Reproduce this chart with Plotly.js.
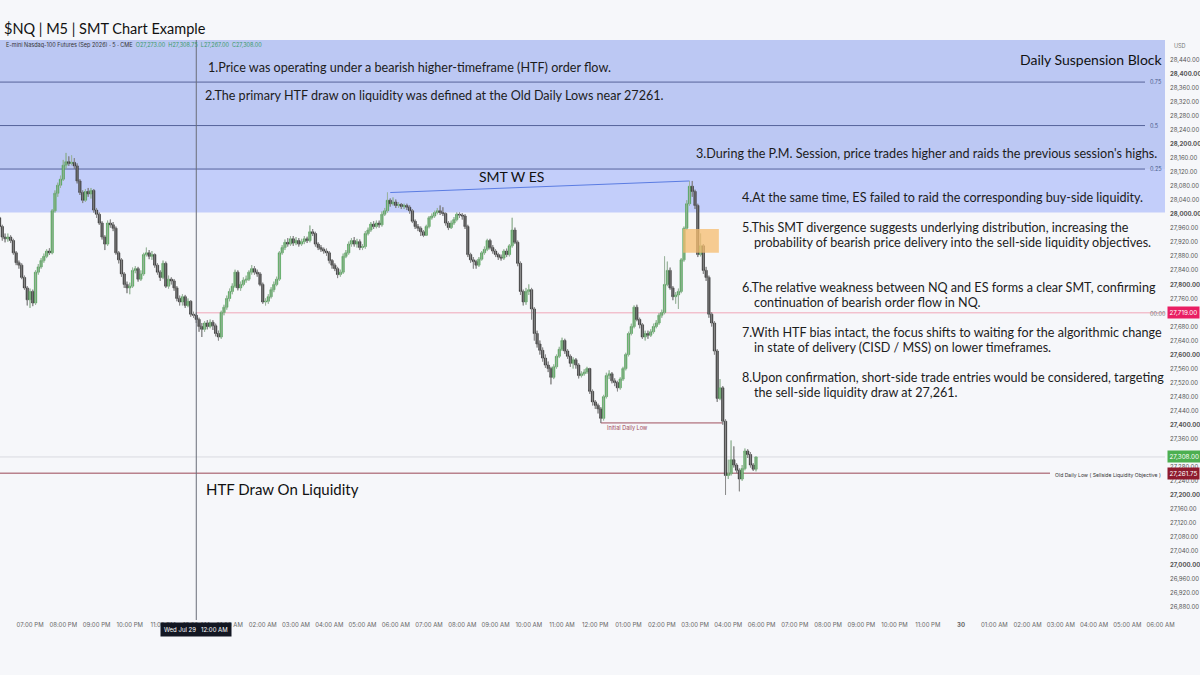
<!DOCTYPE html>
<html>
<head>
<meta charset="utf-8">
<script src="https://cdn.plot.ly/plotly-3.0.1.min.js"></script>
<style>
  html, body { margin: 0; padding: 0; background: #f6f7fa; }
  #chart { width: 1200px; height: 675px; }
</style>
</head>
<body>
<div id="chart"></div>
<script>
// ---------- DATA (NQ 5-minute bars, 6:00 PM Jul 28 -> 4:50 PM Jul 29) ----------
const open = [
28015,27990,27965,27935,27930,27935,27925,27890,27862,27855,
27820,27790,27756,27780,27747,27835,27850,27868,27880,27895,
27890,28010,28060,28083,28100,28140,28150,28145,28148,28138,
28095,28062,28040,28065,28058,28068,28012,28000,27975,27935,
27915,27975,27970,27960,27890,27870,27830,27800,27790,27795,
27840,27845,27815,27830,27885,27890,27880,27885,27855,27835,
27820,27860,27795,27815,27810,27790,27760,27750,27765,27740,
27752,27715,27712,27700,27680,27672,27690,27680,27692,27682,
27660,27650,27720,27735,27760,27780,27795,27835,27790,27800,
27812,27815,27835,27845,27835,27830,27800,27750,27752,27765,
27785,27800,27815,27890,27905,27920,27915,27930,27918,27925,
27915,27922,27930,27925,27950,27945,27915,27905,27900,27895,
27890,27868,27855,27845,27828,27835,27880,27890,27915,27925,
27915,27922,27905,27908,27945,27955,27972,27965,27975,27970,
28000,28010,28040,28030,28035,28025,28028,28022,28025,28020,
28010,27980,27965,27960,27950,27940,27965,27990,27995,28005,
28010,28005,28002,27975,27962,27975,27985,28000,27998,27995,
27965,27885,27870,27865,27855,27872,27890,27900,27925,27905,
27895,27885,27878,27875,27895,27885,27910,27955,27920,27860,
27780,27750,27780,27785,27730,27660,27630,27612,27590,27570,
27560,27535,27565,27595,27615,27640,27610,27595,27575,27585,
27570,27540,27545,27550,27560,27495,27465,27455,27445,27418,
27480,27540,27545,27525,27520,27505,27530,27560,27600,27660,
27680,27735,27700,27685,27650,27660,27655,27665,27680,27690,
27712,27720,27800,27840,27790,27765,27770,27780,27870,27960,
28030,28080,28065,28025,27885,27910,27840,27820,27715,27690,
27610,27475,27505,27410,27255,27260,27300,27285,27270,27245,
27275,27325,27315,27285,27273
];
const high = [
28020,27995,27970,27945,27945,27940,27930,27895,27868,27860,
27825,27795,27788,27785,27840,27858,27875,27888,27900,27903,
28015,28068,28090,28110,28155,28175,28165,28168,28160,28145,
28100,28068,28072,28075,28075,28072,28018,28005,27980,27940,
27982,27985,27978,27965,27895,27875,27835,27808,27805,27848,
27852,27850,27840,27890,27905,27898,27895,27888,27860,27840,
27868,27865,27825,27820,27815,27795,27768,27772,27770,27760,
27755,27722,27720,27705,27690,27695,27698,27700,27698,27688,
27668,27725,27742,27768,27788,27803,27842,27840,27808,27820,
27825,27840,27855,27852,27842,27835,27805,27760,27772,27792,
27808,27822,27895,27912,27928,27932,27938,27938,27935,27932,
27930,27938,27936,27968,27958,27950,27920,27912,27905,27902,
27895,27872,27860,27850,27842,27888,27898,27922,27932,27935,
27930,27928,27915,27952,27962,27978,27980,27982,27982,28008,
28018,28062,28045,28048,28042,28035,28032,28030,28030,28025,
28015,27985,27972,27965,27955,27970,27995,28002,28010,28018,
28025,28020,28005,27980,27982,27992,28005,28005,28003,28000,
27970,27890,27878,27870,27878,27895,27908,27930,27930,27912,
27900,27890,27885,27900,27902,27915,27990,27962,27925,27865,
27785,27790,27800,27790,27735,27668,27640,27620,27600,27580,
27565,27572,27600,27622,27648,27645,27615,27600,27592,27590,
27575,27552,27558,27565,27562,27500,27470,27460,27450,27485,
27548,27555,27550,27532,27525,27535,27565,27605,27665,27688,
27740,27742,27705,27690,27668,27668,27672,27688,27698,27718,
27728,27880,27865,27848,27795,27778,27788,27875,27965,28040,
28095,28095,28070,28030,27945,27915,27850,27825,27720,27695,
27615,27530,27510,27415,27300,27355,27338,27290,27275,27285,
27332,27330,27322,27290,27308.75
];
const low = [
27980,27958,27925,27920,27922,27918,27885,27855,27845,27815,
27785,27740,27733,27738,27742,27828,27845,27862,27875,27884,
27886,28005,28050,28075,28095,28130,28138,28140,28130,28088,
28055,28032,28035,28050,28045,28005,27990,27970,27928,27898,
27910,27962,27952,27885,27860,27822,27790,27775,27772,27790,
27832,27808,27810,27825,27880,27872,27870,27848,27828,27810,
27815,27790,27788,27800,27782,27752,27740,27740,27733,27735,
27708,27705,27690,27665,27650,27665,27672,27675,27670,27652,
27640,27645,27712,27728,27752,27772,27790,27783,27782,27795,
27805,27810,27828,27828,27822,27795,27745,27740,27745,27760,
27778,27795,27810,27885,27898,27908,27910,27910,27912,27908,
27910,27915,27918,27920,27938,27908,27898,27893,27888,27882,
27860,27845,27838,27818,27822,27830,27875,27885,27908,27908,
27905,27898,27898,27902,27940,27950,27958,27960,27962,27965,
27995,28005,28022,28025,28018,28018,28015,28015,28012,28002,
27975,27958,27952,27938,27935,27938,27960,27985,27990,28000,
27998,27995,27968,27955,27958,27970,27980,27990,27985,27958,
27878,27862,27845,27845,27850,27868,27885,27895,27900,27888,
27878,27870,27868,27870,27878,27880,27905,27915,27852,27770,
27740,27742,27770,27700,27640,27620,27600,27580,27562,27550,
27515,27530,27560,27590,27610,27602,27588,27565,27560,27560,
27532,27535,27540,27545,27488,27455,27445,27432,27405,27412,
27475,27530,27518,27510,27495,27500,27525,27555,27595,27655,
27675,27695,27675,27645,27640,27645,27650,27660,27675,27685,
27705,27715,27795,27785,27755,27745,27730,27775,27865,27955,
28025,28050,28015,27878,27880,27830,27810,27705,27680,27600,
27465,27470,27400,27200,27245,27255,27278,27262,27210,27240,
27270,27305,27278,27268,27267
];
const close = [
27990,27965,27935,27930,27935,27925,27890,27862,27855,27820,
27790,27756,27780,27747,27835,27850,27868,27880,27895,27890,
28010,28060,28083,28100,28140,28150,28145,28148,28138,28095,
28062,28040,28065,28058,28068,28012,28000,27975,27935,27915,
27975,27970,27960,27890,27870,27830,27800,27790,27795,27840,
27845,27815,27830,27885,27890,27880,27885,27855,27835,27820,
27860,27795,27815,27810,27790,27760,27750,27765,27740,27752,
27715,27712,27700,27680,27672,27690,27680,27692,27682,27660,
27650,27720,27735,27760,27780,27795,27835,27790,27800,27812,
27815,27835,27845,27835,27830,27800,27750,27752,27765,27785,
27800,27815,27890,27905,27920,27915,27930,27918,27925,27915,
27922,27930,27925,27950,27945,27915,27905,27900,27895,27890,
27868,27855,27845,27828,27835,27880,27890,27915,27925,27915,
27922,27905,27908,27945,27955,27972,27965,27975,27970,28000,
28010,28040,28030,28035,28025,28028,28022,28025,28020,28010,
27980,27965,27960,27950,27940,27965,27990,27995,28005,28010,
28005,28002,27975,27962,27975,27985,28000,27998,27995,27965,
27885,27870,27865,27855,27872,27890,27900,27925,27905,27895,
27885,27878,27875,27895,27885,27910,27955,27920,27860,27780,
27750,27780,27785,27730,27660,27630,27612,27590,27570,27560,
27535,27565,27595,27615,27640,27610,27595,27575,27585,27570,
27540,27545,27550,27560,27495,27465,27455,27445,27418,27480,
27540,27545,27525,27520,27505,27530,27560,27600,27660,27680,
27735,27700,27685,27650,27660,27655,27665,27680,27690,27712,
27720,27800,27840,27790,27765,27770,27780,27870,27960,28030,
28080,28065,28025,27885,27910,27840,27820,27715,27690,27610,
27475,27505,27410,27255,27260,27300,27285,27270,27245,27275,
27325,27315,27285,27273,27308
];

// Time axis: 5-minute slots (slot 0 = 6:00 PM Jul 28; the 5-6 PM break is skipped)
const xTickSlots  = [12,24,36,48,60,72,84,96,108,120,132,144,156,168,180,192,204,216,228,240,252,264,
                     276,288,300,312,324,336,348,360,372,384,396,408,420];
const xTickLabels = ["07:00 PM","08:00 PM","09:00 PM","10:00 PM","11:00 PM","12:00 AM","01:00 AM","02:00 AM",
                     "03:00 AM","04:00 AM","05:00 AM","06:00 AM","07:00 AM","08:00 AM","09:00 AM","10:00 AM",
                     "11:00 AM","12:00 PM","01:00 PM","02:00 PM","03:00 PM","04:00 PM",
                     "06:00 PM","07:00 PM","08:00 PM","09:00 PM","10:00 PM","11:00 PM","<b>30</b>",
                     "01:00 AM","02:00 AM","03:00 AM","04:00 AM","05:00 AM","06:00 AM"];

// Price axis ticks (levels hidden behind the price tags are left out)
const yTickValues = [26880,26920,26960,27000,27040,27080,27120,27160,27200,27240,27280,27360,27400,
                     27440,27480,27520,27560,27600,27640,27680,27760,27800,27840,27880,27920,27960,
                     28000,28040,28080,28120,28160,28200,28240,28280,28320,28360,28400,28440];
const yTickLabels = ["26,880.00","26,920.00","26,960.00","<b>27,000.00</b>","27,040.00","27,080.00","27,120.00",
                     "27,160.00","<b>27,200.00</b>","27,240.00","27,280.00","27,360.00","<b>27,400.00</b>",
                     "27,440.00","27,480.00","27,520.00","27,560.00","<b>27,600.00</b>","27,640.00","27,680.00",
                     "27,760.00","<b>27,800.00</b>","27,840.00","27,880.00","27,920.00","27,960.00",
                     "<b>28,000.00</b>","28,040.00","28,080.00","28,120.00","28,160.00","<b>28,200.00</b>",
                     "28,240.00","28,280.00","28,320.00","28,360.00","<b>28,400.00</b>","28,440.00"];

// Key levels
const blockLow = 28005, blockHigh = 28505;
const fibLevels = [28129, 28253, 28377];
const fibLabels = ["0.25", "0.5", "0.75"];
const midnightOpen = 27719, lastPrice = 27308, oldDailyLow = 27261.75, initialDailyLow = 27405;
const smtStart = {slot: 142, price: 28062}, smtEnd = {slot: 250, price: 28095};
const fvg = {slot0: 247.7, slot1: 260.6, low: 27890, high: 27958};
const crossSlot = 72;

const slots = close.map((_, i) => i);

// ---------- LAYOUT HELPERS (pixel -> paper) ----------
const PL = 0, PR = 1165, PT = 40, PB = 620;
const px = x => (x - PL) / (PR - PL);
const py = y => (PB - y) / (PB - PT);
const NOTE_FONT = "Lato, 'Noto Sans', sans-serif";
const SMALL_FONT = "Inter, sans-serif";
function note(text, x, y, size, extra) {
  return Object.assign({
    text: text, xref: "paper", yref: "paper", x: px(x), y: py(y),
    xanchor: "left", yanchor: "middle", showarrow: false,
    font: {family: NOTE_FONT, size: size || 12.6, color: "#1c1c1c"}
  }, extra || {});
}

const annotations = [
  note("$NQ | M5 | SMT Chart Example", 2, 29, 14.5, {font: {family: NOTE_FONT, size: 14.5, color: "#111"}}),
  note("E-mini Nasdaq-100 Futures (Sep 2026) · 5 · CME  <span style='color:#3a9a6a'>O27,273.00  H27,308.75  L27,267.00  C27,308.00</span>",
       4, 45, 5.5, {font: {family: SMALL_FONT, size: 5.5, color: "#333"}}),
  note("1.Price was operating under a bearish higher-timeframe (HTF) order flow.", 206, 67),
  note("2.The primary HTF draw on liquidity was defined at the Old Daily Lows near 27261.", 203, 96),
  note("3.During the P.M. Session, price trades higher and raids the previous session's highs.", 694, 153),
  note("4.At the same time, ES failed to raid the corresponding buy-side liquidity.", 740, 197),
  note("5.This SMT divergence suggests underlying distribution, increasing the", 740, 227),
  note("probability of bearish price delivery into the sell-side liquidity objectives.", 752, 242),
  note("6.The relative weakness between NQ and ES forms a clear SMT, confirming", 740, 287),
  note("continuation of bearish order flow in NQ.", 752, 302),
  note("7.With HTF bias intact, the focus shifts to waiting for the algorithmic change", 740, 332),
  note("in state of delivery (CISD / MSS) on lower timeframes.", 752, 347),
  note("8.Upon confirmation, short-side trade entries would be considered, targeting", 740, 377),
  note("the sell-side liquidity draw at 27,261.", 752, 392),
  note("Daily Suspension Block", 1018, 60, 14, {font: {family: NOTE_FONT, size: 14, color: "#111"}}),
  note("SMT W ES", 477, 177, 14, {font: {family: NOTE_FONT, size: 14, color: "#111"}}),
  note("HTF Draw On Liquidity", 204, 489, 15, {font: {family: NOTE_FONT, size: 15, color: "#111"}}),
  note("Initial Daily Low", 605, 427, 5.5, {font: {family: SMALL_FONT, size: 5.5, color: "#a04a58"}}),
  note("Old Daily Low ( Sellside Liquidity Objective )", 1053, 475, 5.1, {font: {family: SMALL_FONT, size: 5.1, color: "#333"}}),
  note("00:00", 1148, 314, 5.5, {font: {family: SMALL_FONT, size: 5.5, color: "#777"}}),
  note("USD", 1172, 46, 5.5, {font: {family: SMALL_FONT, size: 5.5, color: "#777"}})
];
fibLevels.forEach((lv, k) => annotations.push({
  text: fibLabels[k], xref: "paper", yref: "y", x: px(1148), y: lv, xanchor: "left", yanchor: "middle",
  showarrow: false, font: {family: SMALL_FONT, size: 5.5, color: "#4a5a8a"}
}));
// price tags on the right axis
[[midnightOpen, "27,719.00", "#e91e63", "#fff"], [lastPrice, "27,308.00", "#4caf50", "#fff"],
 [oldDailyLow, "27,261.75", "#8e1b2e", "#fff"]].forEach(t => annotations.push({
  text: t[1], xref: "paper", yref: "y", x: px(1167), y: t[0], xanchor: "left", yanchor: "middle",
  showarrow: false, bgcolor: t[2], borderpad: 1.5, font: {family: SMALL_FONT, size: 6.3, color: t[3]}
}));
// crosshair time tag
annotations.push({
  text: "Wed Jul 29   12:00 AM", xref: "x", yref: "paper", x: crossSlot, y: py(629),
  xanchor: "center", yanchor: "middle", showarrow: false, bgcolor: "#131722", borderpad: 3,
  font: {family: SMALL_FONT, size: 6, color: "#fff"}
});

const shapes = [
  {type: "rect", xref: "paper", yref: "y", x0: 0, x1: 1, y0: blockLow, y1: fibLevels[0],
   fillcolor: "#c3cefa", line: {width: 0}, layer: "below"},
  {type: "rect", xref: "paper", yref: "y", x0: 0, x1: 1, y0: fibLevels[0], y1: blockHigh,
   fillcolor: "#bcc8f3", line: {width: 0}, layer: "below"},
  {type: "line", xref: "paper", yref: "y", x0: 0, x1: 1, y0: lastPrice, y1: lastPrice,
   line: {color: "#d9dae0", width: 1}, layer: "below"},
  {type: "line", xref: "x", yref: "y", x0: crossSlot, x1: 421.6, y0: midnightOpen, y1: midnightOpen,
   line: {color: "#f0a6b8", width: 1}, layer: "below"},
  {type: "line", xref: "paper", yref: "y", x0: 0, x1: px(1050), y0: oldDailyLow, y1: oldDailyLow,
   line: {color: "#9a4656", width: 1}, layer: "below"},
  {type: "line", xref: "x", yref: "y", x0: 218, x1: 262, y0: initialDailyLow, y1: initialDailyLow,
   line: {color: "#a0505f", width: 1}, layer: "below"},
  {type: "rect", xref: "x", yref: "y", x0: fvg.slot0, x1: fvg.slot1, y0: fvg.low, y1: fvg.high,
   fillcolor: "rgba(245,188,110,0.75)", line: {width: 0}, layer: "above"},
  {type: "line", xref: "x", yref: "y", x0: smtStart.slot, x1: smtEnd.slot, y0: smtStart.price, y1: smtEnd.price,
   line: {color: "#5a7ce2", width: 1}},
  {type: "line", xref: "x", yref: "paper", x0: crossSlot, x1: crossSlot, y0: 0, y1: 1,
   line: {color: "#6a6e78", width: 1}}
];
fibLevels.forEach(lv => shapes.push({type: "line", xref: "paper", yref: "y", x0: 0, x1: px(1145), y0: lv, y1: lv,
  line: {color: "#56639a", width: 1}, layer: "below"}));

const wicks = {
  type: "ohlc", x: slots, open: open, high: high, low: low, close: close, tickwidth: 0,
  increasing: {line: {color: "#9fb3a0", width: 1}}, decreasing: {line: {color: "#8d8d8d", width: 1}},
  hoverinfo: "skip", showlegend: false
};
const bodies = {
  type: "candlestick", x: slots, open: open, high: high, low: low, close: close,
  whiskerwidth: 0,
  increasing: {line: {color: "#4a9e50", width: 0.6}, fillcolor: "#55ab5a"},
  decreasing: {line: {color: "#2e2e2e", width: 0.6}, fillcolor: "#363636"},
  hoverinfo: "skip", showlegend: false
};

const layout = {
  width: 1200, height: 675,
  margin: {l: PL, r: 1200 - PR, t: PT, b: 675 - PB},
  paper_bgcolor: "#f6f7fa", plot_bgcolor: "#f6f7fa",
  showlegend: false, hovermode: false,
  boxgap: 0.15, boxgroupgap: 0,
  xaxis: {
    range: [1.17, 421.6], showgrid: false, zeroline: false, showline: false, ticks: "",
    tickvals: xTickSlots, ticktext: xTickLabels, tickangle: 0,
    tickfont: {family: SMALL_FONT, size: 6, color: "#666"},
    rangeslider: {visible: false}, fixedrange: true
  },
  yaxis: {
    side: "right", range: [26843, 28497], showgrid: false, zeroline: false, showline: false, ticks: "",
    tickvals: yTickValues, ticktext: yTickLabels, ticklabelstandoff: 4,
    tickfont: {family: SMALL_FONT, size: 6, color: "#555"}, fixedrange: true
  },
  shapes: shapes, annotations: annotations
};

Plotly.newPlot("chart", [wicks, bodies], layout, {displayModeBar: false, staticPlot: true});
</script>
</body>
</html>
